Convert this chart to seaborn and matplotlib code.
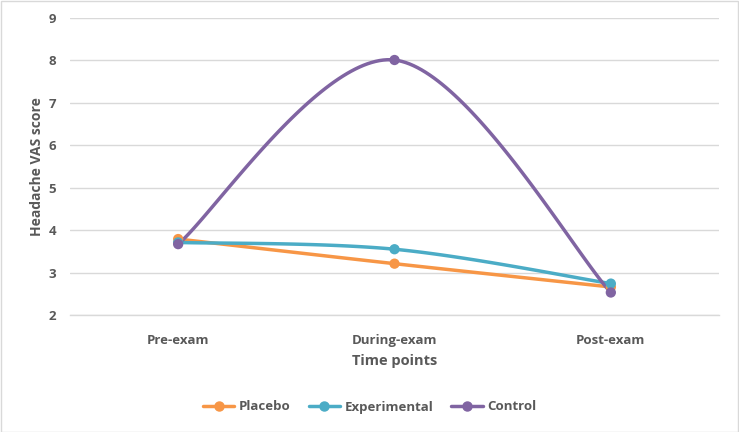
import numpy as np
import pandas as pd
import matplotlib
matplotlib.use("Agg")
import matplotlib.pyplot as plt
import seaborn as sns
from matplotlib.lines import Line2D
from matplotlib.patches import Rectangle

categories = ["Pre-exam", "During-exam", "Post-exam"]
placebo = [3.79, 3.21, 2.66]
experimental = [3.71, 3.55, 2.74]
control = [3.67, 8.01, 2.53]
series_names = ["Placebo", "Experimental", "Control"]
y_ticks = [2, 3, 4, 5, 6, 7, 8, 9]

colors = {"Placebo": "#F79646", "Experimental": "#4BACC6", "Control": "#8064A2"}
text_color = "#595959"

df = pd.DataFrame({
    "Time": categories * 3,
    "x": list(range(len(categories))) * 3,
    "Score": placebo + experimental + control,
    "Group": sum([[n] * len(categories) for n in series_names], []),
})

sns.set_theme(style="white")
plt.rcParams["font.family"] = ["Open Sans", "DejaVu Sans"]

fig = plt.figure(figsize=(7.39, 4.32), dpi=100)
ax = fig.add_axes([70 / 739, 1 - 315 / 432, 649 / 739, 297 / 432])


def smooth(xs, ys, n=60):
    # Excel-style cardinal (Catmull-Rom, 1/6) Bezier smoothing between points
    pts = np.column_stack([xs, ys]).astype(float)
    P = np.vstack([pts[0], pts, pts[-1]])
    out = []
    for i in range(1, len(P) - 2):
        p0, p1, p2, p3 = P[i - 1], P[i], P[i + 1], P[i + 2]
        c1 = p1 + (p2 - p0) / 6.0
        c2 = p2 - (p3 - p1) / 6.0
        t = np.linspace(0, 1, n)[:, None]
        seg = ((1 - t) ** 3) * p1 + 3 * ((1 - t) ** 2) * t * c1 + 3 * (1 - t) * t ** 2 * c2 + t ** 3 * p2
        out.append(seg if i == 1 else seg[1:])
    out = np.vstack(out)
    return out[:, 0], out[:, 1]


for name in series_names:
    sub = df[df["Group"] == name]
    sx, sy = smooth(sub["x"].values, sub["Score"].values)
    ax.plot(sx, sy, color=colors[name], lw=2.5, solid_capstyle="round", zorder=3)

sns.scatterplot(data=df, x="x", y="Score", hue="Group", palette=colors,
                s=55, edgecolor="none", legend=False, ax=ax, zorder=4)

ax.set_xlim(-0.5, len(categories) - 0.5)
ax.set_ylim(2, 9)
ax.set_yticks(y_ticks)
ax.set_xticks(range(len(categories)))
ax.set_xticklabels(categories)
ax.yaxis.grid(True, color="#D9D9D9", lw=1)
ax.set_axisbelow(True)
for s in ["top", "right", "left"]:
    ax.spines[s].set_visible(False)
ax.spines["bottom"].set_color("#D9D9D9")
ax.spines["bottom"].set_linewidth(1)
ax.tick_params(axis="both", length=0, colors=text_color, labelsize=9.5)
ax.tick_params(axis="x", pad=14)
ax.tick_params(axis="y", pad=10)
for lab in ax.get_xticklabels() + ax.get_yticklabels():
    lab.set_fontweight("bold")
    lab.set_color(text_color)

ax.set_xlabel("Time points", fontsize=10.5, fontweight="bold", color=text_color, labelpad=5)
ax.set_ylabel("Headache VAS score", fontsize=10, fontweight="bold", color=text_color, labelpad=3)

handles = [Line2D([0], [0], color=colors[n], lw=2.5, marker="o", markersize=6.5) for n in series_names]
leg = fig.legend(handles, series_names, loc="center", bbox_to_anchor=(0.5, 1 - 407 / 432),
                 ncol=3, frameon=False, handlelength=2.4, columnspacing=1.4, handletextpad=0.3,
                 prop={"weight": "bold", "size": 9.5})
for t in leg.get_texts():
    t.set_color(text_color)

fig.patches.append(Rectangle((0.5 / 739, 0.5 / 432), 1 - 1.5 / 739, 1 - 1.5 / 432,
                             transform=fig.transFigure, fill=False, edgecolor="#D9D9D9", lw=1))

fig.savefig("out.png", dpi=100)
